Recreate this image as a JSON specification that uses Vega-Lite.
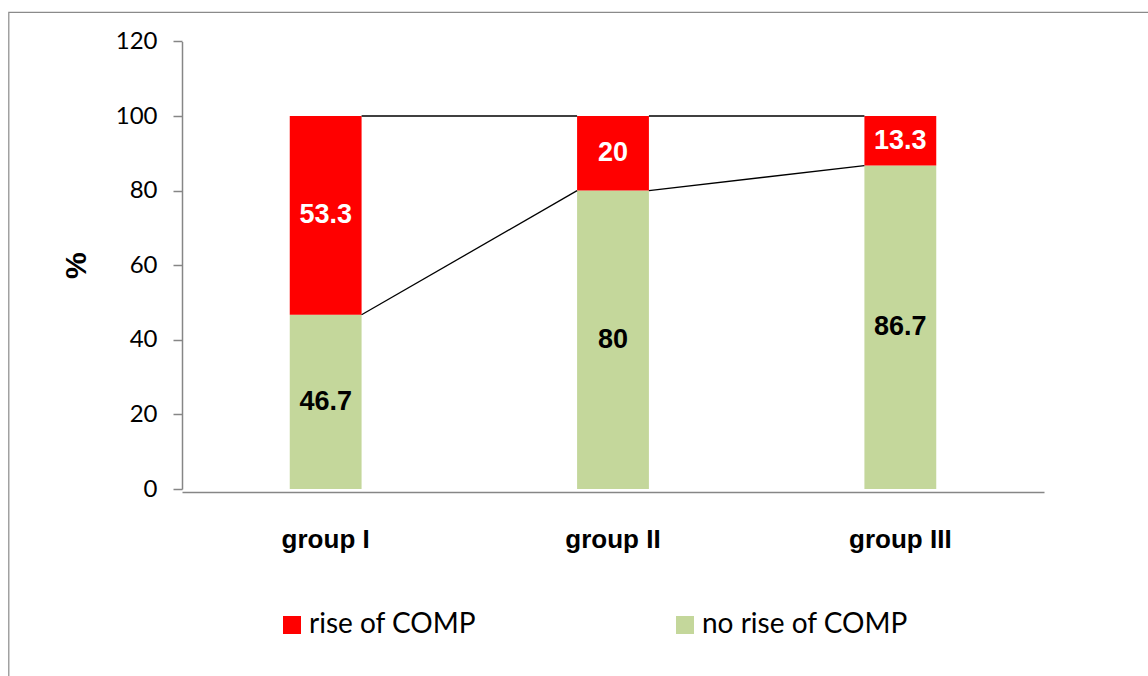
{
  "$schema": "https://vega.github.io/schema/vega-lite/v6.json",
  "autosize": "none",
  "padding": {"left": 8.5, "top": 12, "right": -3, "bottom": -3},
  "width": 1142.5,
  "height": 667,
  "background": "white",
  "config": {
    "view": {"stroke": "#8a8a8a", "strokeWidth": 1.2},
    "axis": {"grid": false}
  },
  "datasets": {
    "bars": [
      {"group": "group I", "status": "no rise of COMP", "value": 46.7, "order": 1},
      {"group": "group I", "status": "rise of COMP", "value": 53.3, "order": 2},
      {"group": "group II", "status": "no rise of COMP", "value": 80, "order": 1},
      {"group": "group II", "status": "rise of COMP", "value": 20, "order": 2},
      {"group": "group III", "status": "no rise of COMP", "value": 86.7, "order": 1},
      {"group": "group III", "status": "rise of COMP", "value": 13.3, "order": 2}
    ],
    "links": [
      {"from": "group I", "to": "group II", "start": 100, "end": 100},
      {"from": "group I", "to": "group II", "start": 46.7, "end": 80},
      {"from": "group II", "to": "group III", "start": 100, "end": 100},
      {"from": "group II", "to": "group III", "start": 80, "end": 86.7}
    ]
  },
  "layer": [
    {
      "data": {"name": "bars"},
      "transform": [
        {"stack": "value", "groupby": ["group"], "sort": [{"field": "order"}], "as": ["v0", "v1"]}
      ],
      "mark": {"type": "bar"},
      "encoding": {
        "x": {
          "field": "group", "type": "nominal", "sort": null,
          "scale": {"domain": ["group I", "group II", "group III"], "range": [173.5, 1035.5], "paddingInner": 0.75, "paddingOuter": 0.375},
          "axis": {
            "orient": "bottom", "offset": -187, "title": null, "labelAngle": 0,
            "ticks": false, "labelPadding": 34,
            "domainColor": "#868686", "domainWidth": 1.5,
            "labelFont": "Liberation Sans", "labelFontWeight": "bold", "labelFontSize": 26, "labelColor": "#000000",
            "labelBaseline": "top"
          }
        },
        "y": {
          "field": "v0", "type": "quantitative",
          "scale": {"domain": [0, 120], "range": [477, 29.4], "nice": false, "zero": true},
          "axis": {
            "orient": "left", "offset": -173.5, "values": [0, 20, 40, 60, 80, 100, 120],
            "title": "%", "titleFont": "Liberation Sans",
            "titleFontWeight": "bold", "titleFontSize": 30, "titleColor": "#000000", "titlePadding": 24,
            "tickSize": 9, "tickColor": "#868686", "tickWidth": 1.5,
            "domainColor": "#868686", "domainWidth": 1.5,
            "labelFont": "Lato", "labelFontSize": 24, "labelColor": "#000000", "labelPadding": 16
          }
        },
        "y2": {"field": "v1"},
        "color": {
          "field": "status", "type": "nominal",
          "scale": {"domain": ["rise of COMP", "no rise of COMP"], "range": ["#FF0000", "#C4D79B"]},
          "legend": {
            "title": null, "orient": "none", "direction": "horizontal", "columns": 2,
            "legendX": 269.5, "legendY": 599, "padding": 0,
            "symbolType": "square", "symbolSize": 324, "symbolStrokeWidth": 0,
            "labelFont": "Lato", "labelFontSize": 28, "labelColor": "#000000", "labelOffset": 3,
            "columnPadding": 194, "labelLimit": 400
          }
        }
      }
    },
    {
      "data": {"name": "links"},
      "mark": {"type": "rule", "color": "#000000", "strokeWidth": 1.3},
      "encoding": {
        "x": {"field": "from", "type": "nominal", "bandPosition": 1},
        "x2": {"field": "to", "bandPosition": 0},
        "y": {"field": "start", "type": "quantitative"},
        "y2": {"field": "end"}
      }
    },
    {
      "data": {"name": "bars"},
      "transform": [
        {"stack": "value", "groupby": ["group"], "sort": [{"field": "order"}], "as": ["v0", "v1"]},
        {"calculate": "(datum.v0 + datum.v1) / 2", "as": "mid"}
      ],
      "mark": {
        "type": "text", "font": "Liberation Sans",
        "fontWeight": "bold", "fontSize": 27, "baseline": "middle", "align": "center"
      },
      "encoding": {
        "x": {"field": "group", "type": "nominal"},
        "y": {"field": "mid", "type": "quantitative"},
        "text": {"field": "value", "type": "nominal"},
        "color": {
          "condition": {"test": "datum.status === 'rise of COMP'", "value": "#FFFFFF"},
          "value": "#000000"
        }
      }
    }
  ]
}
